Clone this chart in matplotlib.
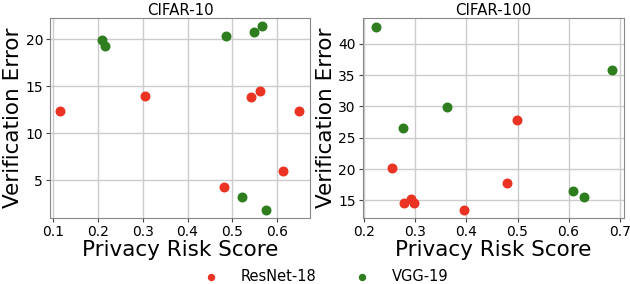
import matplotlib
matplotlib.use("Agg")
import matplotlib.pyplot as plt

# CIFAR-10
c10_resnet_x = [0.116, 0.304, 0.541, 0.561, 0.648, 0.613, 0.482]
c10_resnet_y = [12.4, 13.95, 13.85, 14.47, 12.4, 6.0, 4.3]
c10_vgg_x = [0.210, 0.216, 0.486, 0.548, 0.566, 0.521, 0.576]
c10_vgg_y = [19.93, 19.26, 20.39, 20.74, 21.37, 3.2, 1.84]

# CIFAR-100
c100_resnet_x = [0.254, 0.278, 0.292, 0.298, 0.396, 0.479, 0.498]
c100_resnet_y = [20.13, 14.53, 15.2, 14.63, 13.37, 17.75, 27.8]
c100_vgg_x = [0.223, 0.275, 0.361, 0.685, 0.609, 0.631]
c100_vgg_y = [42.74, 26.63, 29.9, 35.8, 16.43, 15.48]

red = '#ea3323'
green = '#2e7d1e'

fig = plt.figure(figsize=(6.3, 2.84), dpi=100)
ax1 = fig.add_axes([0.0794, 0.232, 0.413, 0.706])
ax2 = fig.add_axes([0.576, 0.232, 0.414, 0.706])

panels = [
    (ax1, 'CIFAR-10', c10_resnet_x, c10_resnet_y, c10_vgg_x, c10_vgg_y,
     (0.093, 0.674), (1.0, 22.3), [0.1, 0.2, 0.3, 0.4, 0.5, 0.6], [5, 10, 15, 20]),
    (ax2, 'CIFAR-100', c100_resnet_x, c100_resnet_y, c100_vgg_x, c100_vgg_y,
     (0.197, 0.708), (12.15, 44.2), [0.2, 0.3, 0.4, 0.5, 0.6, 0.7], [15, 20, 25, 30, 35, 40]),
]

for ax, title, rx, ry, gx, gy, xl, yl, xt, yt in panels:
    ax.set_axisbelow(True)
    ax.grid(True, color='#cccccc', linewidth=1)
    ax.scatter(rx, ry, s=38, color=red, label='ResNet-18', zorder=3)
    ax.scatter(gx, gy, s=38, color=green, label='VGG-19', zorder=3)
    ax.set_xlim(*xl)
    ax.set_ylim(*yl)
    ax.set_xticks(xt)
    ax.set_yticks(yt)
    ax.tick_params(labelsize=10, length=3, color='#444444', pad=2)
    for sp in ax.spines.values():
        sp.set_color('#888888')
    ax.set_title(title, fontsize=10.8, pad=0.3)
    ax.set_xlabel('Privacy Risk Score', fontsize=15.5, labelpad=1)
    ax.set_ylabel('Verification Error', fontsize=15.5, labelpad=2)

handles, labels = ax1.get_legend_handles_labels()
fig.legend(handles, labels, loc='lower center', ncol=2, frameon=False,
           fontsize=10.5, bbox_to_anchor=(0.512, -0.045), markerscale=0.7,
           columnspacing=2.1, handletextpad=1.05)

fig.savefig('out.png', dpi=100)
